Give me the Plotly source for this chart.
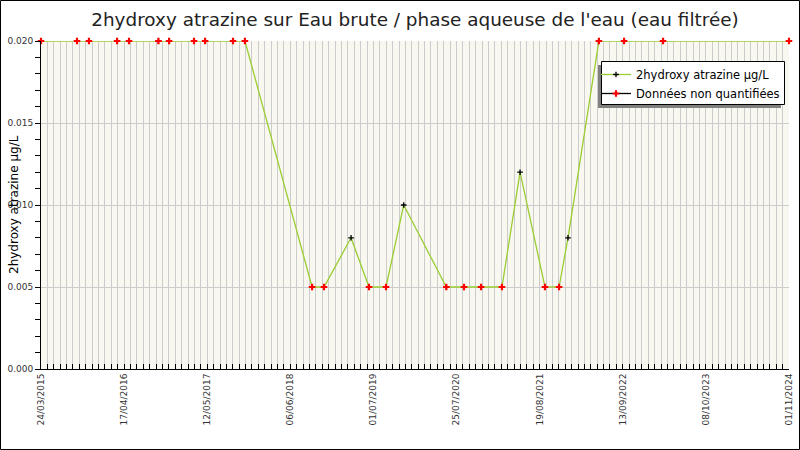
import plotly.graph_objects as go

# ---- data ----
dates = [
    "2015-03-24", "2015-09-09", "2015-11-04", "2016-03-15", "2016-05-10",
    "2016-09-25", "2016-11-14", "2017-03-11", "2017-05-02", "2017-09-10",
    "2017-11-05", "2018-09-16", "2018-11-11", "2019-03-18", "2019-06-10",
    "2019-08-29", "2019-11-20", "2020-06-07", "2020-08-29", "2020-11-17",
    "2021-02-23", "2021-05-19", "2021-09-13", "2021-11-18", "2021-12-30",
    "2022-05-24", "2022-09-19", "2023-03-21", "2024-11-01",
]
values = [
    0.02, 0.02, 0.02, 0.02, 0.02,
    0.02, 0.02, 0.02, 0.02, 0.02,
    0.02, 0.005, 0.005, 0.008, 0.005,
    0.005, 0.010, 0.005, 0.005, 0.005,
    0.005, 0.012, 0.005, 0.005, 0.008,
    0.02, 0.02, 0.02, 0.02,
]
quantified = [
    False, False, False, False, False,
    False, False, False, False, False,
    False, False, False, True, False,
    False, True, False, False, False,
    False, True, False, False, True,
    False, False, False, False,
]

title_text = "2hydroxy atrazine sur Eau brute / phase aqueuse de l'eau (eau filtrée)"
y_title = "2hydroxy atrazine µg/L"
series_name = "2hydroxy atrazine µg/L"
nq_name = "Données non quantifiées"
x_start = "2015-03-24"
x_end = "2024-11-01"

DAY = 86400000

nq_x = [d for d, q in zip(dates, quantified) if not q]
nq_y = [v for v, q in zip(values, quantified) if not q]

fig = go.Figure()
fig.add_trace(go.Scatter(
    x=dates, y=values, mode="lines+markers", name=series_name,
    line=dict(color="#9acd32", width=1.3),
    marker=dict(symbol="cross-thin", size=4, color="black",
                line=dict(color="black", width=1.3)),
    cliponaxis=False,
))
fig.add_trace(go.Scatter(
    x=nq_x, y=nq_y, mode="markers", name=nq_name, showlegend=False,
    marker=dict(symbol="cross", size=5.5, color="red", line=dict(width=0)),
    cliponaxis=False,
))
fig.add_trace(go.Scatter(
    x=[None], y=[None], mode="lines+markers", name=nq_name,
    line=dict(color="black", width=1.3),
    marker=dict(symbol="cross", size=5.5, color="red", line=dict(width=0)),
))

L, R, T, B = 41, 11, 41, 81
W, H = 800, 450
pw, ph = W - L - R, H - T - B

def px_x(p):
    return (p - L) / pw

def px_y(p):
    return 1 - (p - T) / ph

font = "DejaVu Sans"

fig.update_layout(
    width=W, height=H,
    margin=dict(l=L, r=R, t=T, b=B),
    paper_bgcolor="white",
    plot_bgcolor="#f8f8f0",
    font=dict(family=font, size=9, color="#333333"),
    title=dict(text=title_text, x=0.5, xref="paper", xanchor="center",
               y=1 - 20 / H, yanchor="middle",
               font=dict(family=font, size=18.4, color="#222222")),
    showlegend=True,
    legend=dict(x=px_x(596), y=px_y(60), xanchor="left", yanchor="top",
                bgcolor="rgba(0,0,0,0)", borderwidth=0,
                font=dict(family=font, size=11.5, color="black"),
                tracegroupgap=0),
    xaxis=dict(
        type="date", range=[x_start, x_end],
        tick0=x_start, dtick=390 * DAY, tickformat="%d/%m/%Y",
        tickangle=-90, ticks="inside", ticklen=5, tickcolor="black",
        showgrid=True, gridcolor="#cccccc", gridwidth=1,
        showline=True, linecolor="black", linewidth=1,
        zeroline=False,
        minor=dict(tick0=x_start, dtick=30 * DAY, ticks="inside", ticklen=5,
                   tickcolor="black", showgrid=True, gridcolor="#cccccc",
                   gridwidth=1),
        tickfont=dict(family=font, size=9, color="#333333"),
        automargin=False,
    ),
    yaxis=dict(
        range=[0, 0.02], dtick=0.005, tick0=0, tickformat=".3f",
        ticks="outside", ticklen=5, tickcolor="black",
        showgrid=True, gridcolor="#cccccc", gridwidth=1,
        showline=True, linecolor="black", linewidth=1,
        zeroline=False,
        minor=dict(dtick=0.001, ticks="outside", ticklen=5,
                   tickcolor="black", showgrid=False),
        tickfont=dict(family=font, size=9, color="#333333"),
        automargin=False,
    ),
    shapes=[
        dict(type="rect", xref="paper", yref="paper",
             x0=px_x(598), x1=px_x(781), y0=px_y(108), y1=px_y(65),
             fillcolor="#808080", line=dict(width=0), layer="above"),
        dict(type="rect", xref="paper", yref="paper",
             x0=px_x(601.5), x1=px_x(784.5), y0=px_y(104.5), y1=px_y(61.5),
             fillcolor="white", line=dict(color="black", width=1),
             layer="above"),
        dict(type="rect", xref="paper", yref="paper",
             x0=px_x(0.5), x1=px_x(799.5), y0=px_y(449.5), y1=px_y(0.5),
             line=dict(color="black", width=1), fillcolor="rgba(0,0,0,0)",
             layer="above"),
    ],
    annotations=[
        dict(text=y_title, xref="paper", yref="paper", x=px_x(14),
             y=px_y(205), textangle=-90, showarrow=False,
             xanchor="center", yanchor="middle",
             font=dict(family=font, size=12, color="black")),
    ],
)

fig.write_html("out.html", config={"displayModeBar": False},
               post_script="document.body.style.margin='0';")
